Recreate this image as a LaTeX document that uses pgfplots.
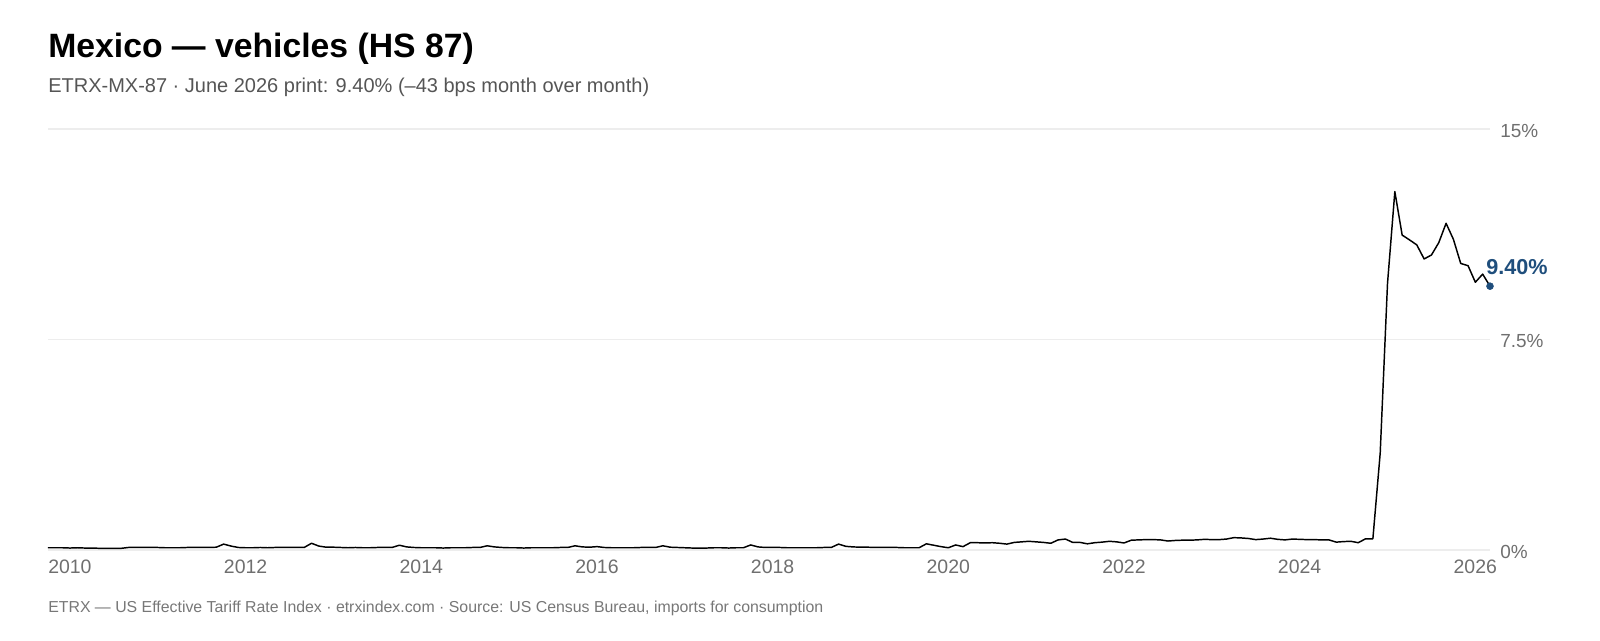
\documentclass[border=0pt]{standalone}
\usepackage{pgfplots}
\pgfplotsset{compat=1.18}
\usepackage{pgfplotstable}
\usepackage{fontspec}
\setmainfont{Liberation Sans}
\definecolor{gridc}{HTML}{EDEDED}
\definecolor{tickc}{HTML}{6F6F6F}
\definecolor{subc}{HTML}{555555}
\definecolor{footc}{HTML}{777777}
\definecolor{blu}{HTML}{1F4E7C}
\pgfplotstableread{
m v
0 0.08
1 0.08
2 0.08
3 0.07
4 0.08
5 0.07
6 0.07
7 0.06
8 0.06
9 0.06
10 0.06
11 0.09
12 0.09
13 0.09
14 0.09
15 0.09
16 0.08
17 0.08
18 0.08
19 0.09
20 0.09
21 0.09
22 0.09
23 0.10
24 0.21
25 0.14
26 0.09
27 0.08
28 0.08
29 0.09
30 0.08
31 0.09
32 0.09
33 0.09
34 0.09
35 0.09
36 0.24
37 0.14
38 0.10
39 0.10
40 0.09
41 0.08
42 0.09
43 0.08
44 0.08
45 0.09
46 0.09
47 0.09
48 0.17
49 0.11
50 0.09
51 0.08
52 0.08
53 0.08
54 0.07
55 0.08
56 0.08
57 0.08
58 0.09
59 0.09
60 0.15
61 0.11
62 0.09
63 0.08
64 0.08
65 0.07
66 0.08
67 0.08
68 0.08
69 0.08
70 0.09
71 0.09
72 0.15
73 0.11
74 0.10
75 0.12
76 0.09
77 0.08
78 0.08
79 0.08
80 0.08
81 0.09
82 0.09
83 0.09
84 0.15
85 0.10
86 0.09
87 0.08
88 0.07
89 0.07
90 0.07
91 0.08
92 0.08
93 0.07
94 0.08
95 0.08
96 0.18
97 0.11
98 0.09
99 0.09
100 0.09
101 0.08
102 0.08
103 0.08
104 0.08
105 0.08
106 0.09
107 0.09
108 0.21
109 0.13
110 0.11
111 0.10
112 0.10
113 0.09
114 0.09
115 0.09
116 0.09
117 0.08
118 0.08
119 0.08
120 0.22
121 0.17
122 0.12
123 0.08
124 0.18
125 0.12
126 0.26
127 0.26
128 0.25
129 0.26
130 0.24
131 0.21
132 0.27
133 0.29
134 0.31
135 0.29
136 0.27
137 0.24
138 0.36
139 0.39
140 0.27
141 0.27
142 0.22
143 0.26
144 0.28
145 0.31
146 0.29
147 0.25
148 0.35
149 0.36
150 0.37
151 0.37
152 0.36
153 0.32
154 0.34
155 0.35
156 0.35
157 0.36
158 0.38
159 0.37
160 0.37
161 0.39
162 0.44
163 0.43
164 0.41
165 0.37
166 0.39
167 0.42
168 0.38
169 0.36
170 0.39
171 0.38
172 0.37
173 0.37
174 0.36
175 0.36
176 0.28
177 0.30
178 0.31
179 0.26
180 0.40
181 0.40
182 3.45
183 9.50
184 12.77
185 11.22
186 11.05
187 10.87
188 10.37
189 10.51
190 10.95
191 11.64
192 11.07
193 10.21
194 10.13
195 9.54
196 9.83
197 9.40
}\series
\begin{document}
\begin{tikzpicture}
\begin{axis}[
  anchor=origin,
  scale only axis, width=1081.5pt, height=315.75pt,
  xmin=0, xmax=197, ymin=0, ymax=15,
  axis line style={draw=none},
  major tick length=0pt,
  xtick={0,24,...,192},
  xticklabels={2010,2012,2014,2016,2018,2020,2022,2024,2026},
  ytick={0,7.5,15},
  yticklabels={0\%,7.5\%,15\%},
  yticklabel pos=right,
  ymajorgrids, grid style={gridc, line width=0.8pt},
  xticklabel style={anchor=north west, inner sep=0pt, yshift=-7.5pt, text=tickc, font=\fontsize{14.6pt}{16pt}\selectfont},
  yticklabel style={anchor=west, inner sep=0pt, xshift=7.5pt, yshift=-1.5pt, text=tickc, font=\fontsize{14.2pt}{16pt}\selectfont},
  clip=false,
]
\addplot[black, line width=1.1pt, line join=round] table[x=m,y=v] {\series};
\addplot[only marks, mark=*, mark size=2.6pt, mark options={fill=blu, draw=blu}] coordinates {(197,9.40)};
\node[anchor=base west, inner sep=0pt, text=blu, font=\fontsize{16.2pt}{18pt}\selectfont\bfseries, xshift=-3pt, yshift=9pt] at (axis cs:197,9.40) {9.40\%};
\end{axis}
\node[anchor=base west,inner sep=0pt,font=\fontsize{25.3pt}{28pt}\selectfont\bfseries] at (0pt,369pt) {Mexico — vehicles (HS 87)};
\node[anchor=base west,inner sep=0pt,text=subc,font=\fontsize{15pt}{18pt}\selectfont] at (0pt,343pt) {ETRX-MX-87 · June 2026 print: 9.40\% (–43 bps month over month)};
\node[anchor=base west,inner sep=0pt,text=footc,font=\fontsize{11.9pt}{14pt}\selectfont] at (0pt,-46.7pt) {ETRX — US Effective Tariff Rate Index · etrxindex.com · Source: US Census Bureau, imports for consumption};
\useasboundingbox (-36pt,-67.5pt) rectangle (1164pt,412.5pt);
\end{tikzpicture}
\end{document}
